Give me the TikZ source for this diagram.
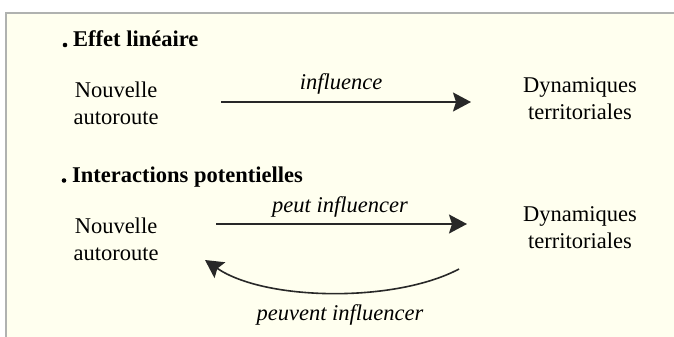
\documentclass[tikz,border=0pt]{standalone}
\usepackage{fontspec}
\setmainfont{Liberation Serif}
\usetikzlibrary{arrows.meta}
\definecolor{panel}{RGB}{255,255,239}
\definecolor{frame}{RGB}{176,178,176}
\definecolor{ink}{RGB}{40,40,40}
\tikzset{
  label/.style={font=\fontsize{22.5}{27}\selectfont, inner sep=0pt, align=center, anchor=base},
  heading/.style={font=\fontsize{22.5}{27}\selectfont\bfseries, inner sep=0pt, anchor=base west},
  verb/.style={font=\fontsize{22.5}{27}\selectfont\itshape, inner sep=0pt, anchor=base},
  link/.style={draw=ink, line width=1.6pt, -{Stealth[length=18pt,width=19pt,inset=3pt]}},
  dot/.style={circle, fill=black, inner sep=0pt, minimum size=4.6pt}
}
\begin{document}
\begin{tikzpicture}[x=1pt, y=-1pt]
  % panel background with its grey frame
  \fill[white] (0,0) rectangle (674,337);
  \useasboundingbox (0,0) rectangle (674,337);
  \fill[panel] (5,13) rectangle (674,337);
  \draw[frame, line width=2pt] (5.5,337) -- (5.5,13.5) -- (674,13.5);

  % first case: one-way effect
  \node[dot] (b1) at (65,45) {};
  \node[heading] (h1) at (73,47) {Effet linéaire};
  \node[label] (n1) at (116,124) {Nouvelle\\autoroute};
  \node[label] (d1) at (580,119) {Dynamiques\\territoriales};
  \coordinate (s1) at (221,102);
  \coordinate (e1) at (471,102);
  \draw[link] (s1) -- (e1);
  \node[verb] (v1) at (341,89) {influence};

  % second case: feedback between the two
  \node[dot] (b2) at (64,180.5) {};
  \node[heading] (h2) at (72,182) {Interactions potentielles};
  \node[label] (n2) at (116,260) {Nouvelle\\autoroute};
  \node[label] (d2) at (580,248) {Dynamiques\\territoriales};
  \coordinate (s2) at (216,224);
  \coordinate (e2) at (467,224);
  \draw[link] (s2) -- (e2);
  \node[verb] (v2) at (340,212) {peut influencer};
  \coordinate (s3) at (459,269);
  \coordinate (e3) at (205,260);
  \draw[link] (s3) .. controls (395,303) and (265,301) .. (e3);
  \node[verb] (v3) at (340,320) {peuvent influencer};
\end{tikzpicture}
\end{document}
